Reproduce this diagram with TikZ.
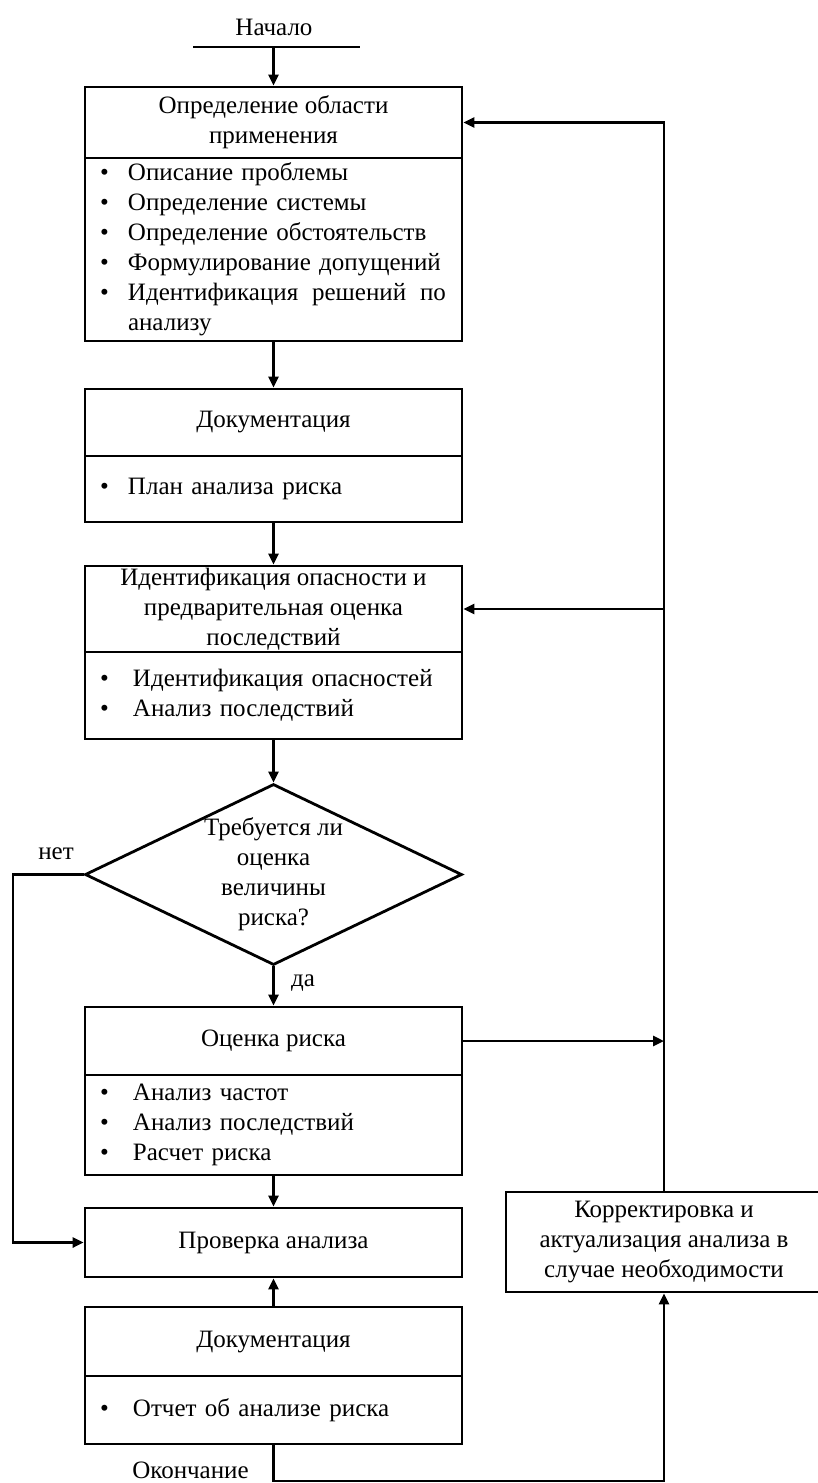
\documentclass[tikz,border=0pt]{standalone}
\usepackage{fontspec}
\setmainfont{Liberation Serif}
\usetikzlibrary{shapes.geometric, arrows.meta}
\newcommand\itm[2][28pt]{\makebox[#1][l]{\textbullet}#2}

\begin{document}
\begin{tikzpicture}[x=1pt, y=-1pt,
  every node/.style={font=\fontsize{25}{30}\selectfont},
  box/.style={draw, line width=2.8pt, minimum width=377pt, inner sep=0pt, align=center},
  list/.style={draw, line width=2.8pt, minimum width=377pt, text width=347pt, inner xsep=15pt, inner ysep=0pt, align=left},
  decide/.style={draw, shape=diamond, line width=2.8pt, aspect=2.08, inner sep=0pt, align=center, minimum width=377pt, minimum height=181pt},
  ln/.style={line width=2.8pt},
  arr/.style={line width=2.8pt, -{Triangle[length=11pt, width=10pt]}}]
  \useasboundingbox (0,0) rectangle (818,1483);
  \node (start) at (274,27) {Начало};
  \coordinate (sl) at (193,47);
  \coordinate (sr) at (360,47);
  \coordinate (s0) at (273.5,47);
  \node[box, minimum height=71pt] (scope) at (273.5,122.5) {Определение области\\применения};
  \node[list, minimum height=183pt] (scopelist) at (273.5,249.5) {\itm{Описание проблемы}\\\itm{Определение системы}\\\itm{Определение обстоятельств}\\\itm{Формулирование допущений}\\\itm{\makebox[318pt][s]{Идентификация\hfill решений\hfill по}}\\\hspace*{28pt}анализу};
  \node[box, minimum height=67pt] (doc) at (273.5,422.5) {Документация};
  \node[list, minimum height=66pt] (doclist) at (273.5,489) {\itm{План анализа риска}};
  \node[box, minimum height=86pt] (hazard) at (273.5,609) {Идентификация опасности и\\предварительная оценка\\последствий};
  \node[list, minimum height=87pt] (hazardlist) at (273.5,695.5) {\itm[33pt]{Идентификация опасностей}\\\itm[33pt]{Анализ последствий}};
  \node[decide] (quest) at (273.5,874.5) {Требуется ли\\оценка\\величины\\риска?};
  \node (no) at (56,854) {нет};
  \node (yes) at (303,983) {да};
  \node[box, minimum height=68pt] (risk) at (273.5,1041) {Оценка риска};
  \node[list, minimum height=100pt] (risklist) at (273.5,1125) {\itm[33pt]{Анализ частот}\\\itm[33pt]{Анализ последствий}\\\itm[33pt]{Расчет риска}};
  \node[box, minimum height=69pt] (check) at (273.5,1242.5) {Проверка анализа};
  \node[box, minimum height=69pt] (report) at (273.5,1341.5) {Документация};
  \node[list, minimum height=68pt] (reportlist) at (273.5,1410) {\itm[33pt]{Отчет об анализе риска}};
  \node[box, minimum width=316pt, minimum height=100pt] (update) at (664,1242) {Корректировка и\\актуализация анализа в\\случае необходимости};
  \node (finish) at (190.5,1470) {Окончание};
  \coordinate (nl) at (13,874.5);
  \coordinate (f0) at (273.5,1481);
  \draw[ln] (sl) -- (sr);
  \draw[arr] (s0) -- (scope);
  \draw[arr] (scopelist) -- (doc);
  \draw[arr] (doclist) -- (hazard);
  \draw[arr] (hazardlist) -- (quest);
  \draw[arr] (quest) -- (risk);
  \draw[arr] (risklist) -- (check);
  \draw[arr] (report) -- (check);
  \draw[arr] (quest.west) -- (nl) |- (check.west);
  \draw[arr] (risk.east) -- (risk.east -| update.north);
  \draw[arr] (update.north) |- (scope.east);
  \draw[arr] (hazard.east -| update.north) -- (hazard.east);
  \draw[arr] (reportlist.south) -- (f0) -| (update.south);
\end{tikzpicture}
\end{document}
